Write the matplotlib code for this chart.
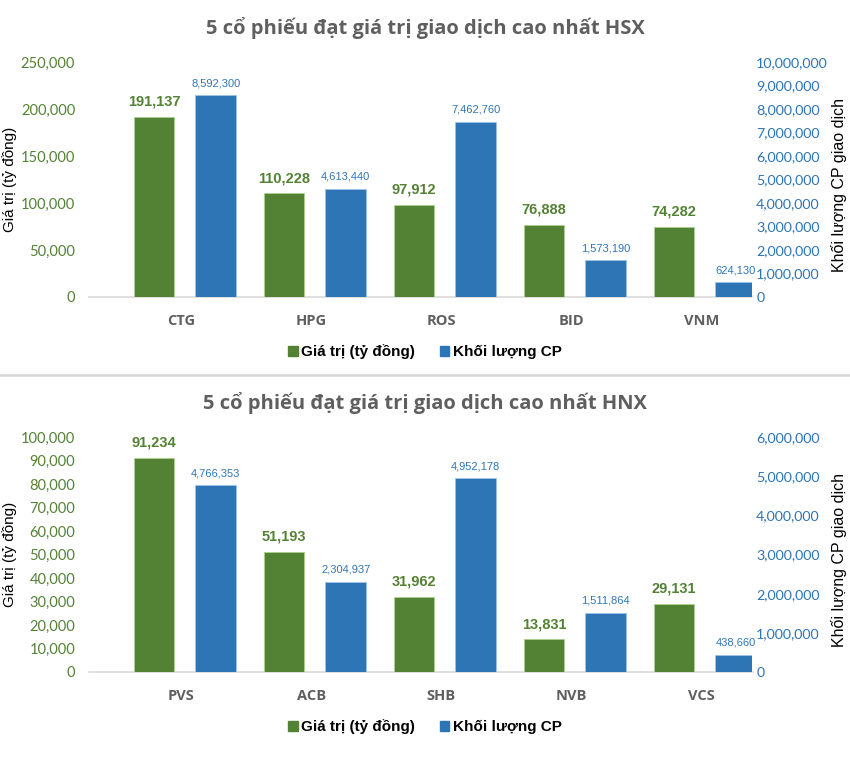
import numpy as np
import matplotlib
matplotlib.use("Agg")
import matplotlib.pyplot as plt
from matplotlib.ticker import FuncFormatter, MultipleLocator
from matplotlib.patches import Patch
from matplotlib.lines import Line2D

# top chart (HSX)
hsx_codes = ["CTG", "HPG", "ROS", "BID", "VNM"]
hsx_value = [191137, 110228, 97912, 76888, 74282]
hsx_volume = [8592300, 4613440, 7462760, 1573190, 624130]

# bottom chart (HNX)
hnx_codes = ["PVS", "ACB", "SHB", "NVB", "VCS"]
hnx_value = [91234, 51193, 31962, 13831, 29131]
hnx_volume = [4766353, 2304937, 4952178, 1511864, 438660]

GREEN = "#548235"
BLUE = "#2E75B6"
GRAY = "#5F5F5F"

SANS = "Liberation Sans"
TICK = "Lato"

fmt = FuncFormatter(lambda v, p: f"{int(v):,}")

W, H = 850, 774


def draw(ax, codes, value, volume, vmax, vstep, qmax, qstep, title, title_y, legend_y):
    x = np.arange(len(codes))
    w = 0.315
    ax2 = ax.twinx()
    ax.bar(x - 0.21, value, w, color=GREEN, edgecolor="#A9D18E", linewidth=0.6, zorder=3)
    ax2.bar(x + 0.265, volume, w, color=BLUE, edgecolor="#9DC3E6", linewidth=0.6, zorder=3)

    ax.set_xlim(-0.71, 4.39)
    ax.set_ylim(0, vmax)
    ax2.set_ylim(0, qmax)
    ax.yaxis.set_major_locator(MultipleLocator(vstep))
    ax2.yaxis.set_major_locator(MultipleLocator(qstep))
    ax.yaxis.set_major_formatter(fmt)
    ax2.yaxis.set_major_formatter(fmt)

    for a in (ax, ax2):
        for s in a.spines.values():
            s.set_visible(False)
    ax.spines["bottom"].set_visible(True)
    ax.spines["bottom"].set_color("#D9D9D9")
    ax.spines["bottom"].set_linewidth(1.2)

    ax.tick_params(axis="y", length=0, pad=10, labelcolor=GREEN, labelsize=10.5)
    ax2.tick_params(axis="y", length=0, pad=3, labelcolor=BLUE, labelsize=10.3)
    for lab in ax.get_yticklabels() + ax2.get_yticklabels():
        lab.set_fontfamily(TICK)

    ax.set_xticks(x)
    ax.set_xticklabels(codes, fontfamily="Open Sans", fontweight="bold", fontsize=10.5, color=GRAY)
    ax.tick_params(axis="x", length=0, pad=12)

    # axis titles placed by hand, like the reference
    pos = ax.get_position()
    yc = pos.y0 + pos.height / 2
    fig.text(10 / W, yc, "Giá trị (tỷ đồng)", rotation=90, ha="center", va="center",
             fontfamily=SANS, fontsize=11)
    fig.text(839 / W, yc - 6 / H, "Khối lượng CP giao dịch", rotation=90, ha="center",
             va="center", fontfamily=SANS, fontsize=11.5)

    for xi, v in zip(x, value):
        ax.annotate(f"{v:,}", (xi - 0.21, v), xytext=(0, 6), textcoords="offset points",
                    ha="center", va="bottom", color=GREEN, fontweight="bold",
                    fontfamily=SANS, fontsize=10.5)
    for xi, v in zip(x, volume):
        ax2.annotate(f"{v:,}", (xi + 0.265, v), xytext=(0, 5), textcoords="offset points",
                     ha="center", va="bottom", color=BLUE, fontfamily=SANS, fontsize=8)

    fig.text(0.5, title_y, title, ha="center", va="center", color=GRAY,
             fontfamily="Open Sans", fontweight="bold", fontsize=14.5)

    handles = [Patch(color=GREEN), Patch(color=BLUE)]
    fig.legend(handles, ["Giá trị (tỷ đồng)", "Khối lượng CP"], loc="center",
               bbox_to_anchor=(0.5, legend_y), ncol=2, frameon=False,
               handlelength=0.6, handleheight=0.6, handletextpad=0.25, columnspacing=1.6,
               prop={"family": SANS, "weight": "bold", "size": 11})


fig = plt.figure(figsize=(8.5, 7.74), dpi=100)
ax_top = fig.add_axes([0.1047, 0.6163, 0.78, 0.3036])
ax_bot = fig.add_axes([0.1047, 0.1318, 0.78, 0.3036])

draw(ax_top, hsx_codes, hsx_value, hsx_volume, 250000, 50000, 10000000, 1000000,
     "5 cổ phiếu đạt giá trị giao dịch cao nhất HSX", 1 - 28 / H, 1 - 352 / H)
draw(ax_bot, hnx_codes, hnx_value, hnx_volume, 100000, 10000, 6000000, 1000000,
     "5 cổ phiếu đạt giá trị giao dịch cao nhất HNX", 1 - 403 / H, 1 - 727 / H)

# separator between the two charts
fig.add_artist(Line2D([0, 1], [1 - 375 / H, 1 - 375 / H], color="#D9D9D9", linewidth=2))

fig.savefig("out.png", dpi=100, facecolor="white")
